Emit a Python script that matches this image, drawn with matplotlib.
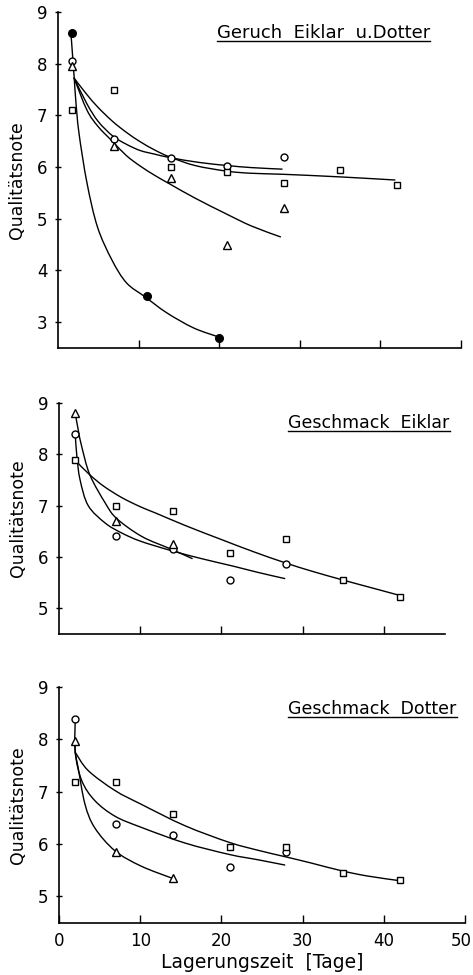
import matplotlib.pyplot as plt
from matplotlib.path import Path
from matplotlib.patches import PathPatch
from matplotlib.transforms import ScaledTranslation

# ---------------- data ----------------
# Panel 1: Geruch Eiklar u. Dotter
p1_filled_x = [1.7, 11, 20]
p1_filled_y = [8.6, 3.5, 2.7]
p1_circle_x = [1.7, 7, 14, 21, 28]
p1_circle_y = [8.05, 6.55, 6.17, 6.03, 6.2]
p1_square_x = [1.7, 7, 14, 21, 28, 35, 42]
p1_square_y = [7.1, 7.5, 6.0, 5.9, 5.7, 5.95, 5.65]
p1_triangle_x = [1.7, 7, 14, 21, 28]
p1_triangle_y = [7.95, 6.4, 5.79, 4.5, 5.2]

# fitted curves of panel 1 (points taken along the drawn lines)
p1_filled_curve_x = [1.6, 2.0, 2.2, 2.6, 3.6, 4.9, 6.7, 8.5, 10.8, 13.5, 16.8, 19.8]
p1_filled_curve_y = [8.6, 7.75, 7.3, 6.66, 5.69, 4.84, 4.2, 3.76, 3.49, 3.18, 2.89, 2.72]
p1_circle_curve_x = [2.0, 3.6, 5.0, 6.8, 8.5, 10.2, 12.0, 14.0, 17.5, 21.0, 24.0, 27.8]
p1_circle_curve_y = [7.72, 7.22, 6.88, 6.6, 6.44, 6.32, 6.25, 6.18, 6.09, 6.03, 5.99, 5.96]
p1_square_curve_x = [2.0, 3.6, 5.0, 6.8, 8.5, 10.2, 12.0, 13.8, 17.0, 21.0, 24.0, 28.0, 35.0, 41.8]
p1_square_curve_y = [7.72, 7.4, 7.15, 6.88, 6.67, 6.49, 6.33, 6.2, 6.03, 5.92, 5.88, 5.86, 5.81, 5.75]
p1_triangle_curve_x = [2.0, 3.6, 5.0, 6.8, 8.5, 10.2, 12.0, 13.9, 17.0, 20.8, 24.0, 27.6]
p1_triangle_curve_y = [7.72, 7.1, 6.78, 6.49, 6.22, 6.02, 5.84, 5.67, 5.4, 5.1, 4.86, 4.65]

# Panel 2: Geschmack Eiklar
p2_circle_x = [2, 7, 14, 21, 28]
p2_circle_y = [8.4, 6.4, 6.15, 5.55, 5.87]
p2_square_x = [2, 7, 14, 21, 28, 35, 42]
p2_square_y = [7.88, 7.0, 6.9, 6.08, 6.35, 5.55, 5.23]
p2_triangle_x = [2, 7, 14]
p2_triangle_y = [8.8, 6.7, 6.25]

p2_circle_curve_x = [2.0, 2.2, 2.6, 3.6, 5.7, 7.7, 10.0, 13.7, 17.5, 21.5, 24.5, 27.8]
p2_circle_curve_y = [8.4, 7.96, 7.5, 7.0, 6.66, 6.47, 6.31, 6.13, 5.97, 5.82, 5.7, 5.58]
p2_square_curve_x = [2.2, 3.8, 5.5, 7.7, 10.0, 12.0, 15.6, 20.0, 24.0, 27.8, 31.0, 35.0, 38.5, 42.0]
p2_square_curve_y = [7.85, 7.6, 7.38, 7.16, 6.98, 6.85, 6.61, 6.34, 6.1, 5.89, 5.73, 5.55, 5.4, 5.25]
p2_triangle_curve_x = [2.0, 2.4, 2.8, 3.8, 5.7, 7.1, 10.2, 13.7, 16.4]
p2_triangle_curve_y = [8.8, 8.45, 8.15, 7.6, 7.05, 6.75, 6.4, 6.16, 5.97]

# Panel 3: Geschmack Dotter
p3_circle_x = [2, 7, 14, 21, 28]
p3_circle_y = [8.38, 6.38, 6.17, 5.56, 5.85]
p3_square_x = [2, 7, 14, 21, 28, 35, 42]
p3_square_y = [7.18, 7.18, 6.57, 5.94, 5.95, 5.44, 5.31]
p3_triangle_x = [2, 7, 14]
p3_triangle_y = [7.96, 5.85, 5.35]

p3_circle_curve_x = [2.0, 2.0, 2.8, 4.4, 6.9, 10.1, 15.5, 21.0, 24.5, 27.8]
p3_circle_curve_y = [8.38, 7.75, 7.21, 6.83, 6.53, 6.32, 6.02, 5.8, 5.7, 5.6]
p3_square_curve_x = [2.0, 3.6, 6.9, 10.1, 15.5, 21.0, 24.8, 27.8, 31.0, 34.8, 38.0, 42.0]
p3_square_curve_y = [7.75, 7.4, 7.02, 6.76, 6.35, 6.03, 5.87, 5.76, 5.64, 5.49, 5.39, 5.3]
p3_triangle_curve_x = [2.0, 2.0, 2.35, 3.2, 4.4, 6.9, 10.1, 13.9]
p3_triangle_curve_y = [7.96, 7.75, 7.46, 6.76, 6.31, 5.87, 5.58, 5.35]

titles = ['Geruch  Eiklar  u.Dotter', 'Geschmack  Eiklar', 'Geschmack  Dotter']

# ---------------- figure ----------------
plt.rcParams['font.family'] = 'DejaVu Sans'
fig = plt.figure(figsize=(4.73, 9.75), dpi=100)

W, H = 473.0, 975.0
# axes boxes in pixels: left, right, top, bottom
boxes = [(58, 461, 12, 348), (59, 465, 403, 634), (59, 465, 686.7, 922.7)]
axes = []
for (l, r, t, b) in boxes:
    axes.append(fig.add_axes([l / W, 1 - b / H, (r - l) / W, (b - t) / H]))

open_style = dict(linestyle='none', markerfacecolor='white', markeredgecolor='black',
                  markeredgewidth=1.0, clip_on=False, zorder=3)


def draw_curve(ax, xs, ys):
    # smooth curve through the read points (Catmull-Rom as cubic Bezier path)
    pts = list(zip(xs, ys))
    n = len(pts)
    verts = [pts[0]]
    codes = [Path.MOVETO]
    for i in range(n - 1):
        p0 = pts[i - 1] if i > 0 else pts[i]
        p1 = pts[i]
        p2 = pts[i + 1]
        p3 = pts[i + 2] if i + 2 < n else pts[i + 1]
        c1 = (p1[0] + (p2[0] - p0[0]) / 6, p1[1] + (p2[1] - p0[1]) / 6)
        c2 = (p2[0] - (p3[0] - p1[0]) / 6, p2[1] - (p3[1] - p1[1]) / 6)
        verts += [c1, c2, p2]
        codes += [Path.CURVE4] * 3
    ax.add_patch(PathPatch(Path(verts, codes), fill=False, edgecolor='black',
                           lw=1.0, zorder=2, capstyle='round', joinstyle='round'))


def draw_series(ax, xs, ys, marker, size):
    ax.plot(xs, ys, marker=marker, markersize=size, **open_style)


# panel 1
ax = axes[0]
draw_curve(ax, p1_filled_curve_x, p1_filled_curve_y)
draw_curve(ax, p1_circle_curve_x, p1_circle_curve_y)
draw_curve(ax, p1_square_curve_x, p1_square_curve_y)
draw_curve(ax, p1_triangle_curve_x, p1_triangle_curve_y)
ax.plot(p1_filled_x, p1_filled_y, 'o', color='black', markersize=5.5, clip_on=False, zorder=3)
draw_series(ax, p1_circle_x, p1_circle_y, 'o', 5)
draw_series(ax, p1_square_x, p1_square_y, 's', 4.8)
draw_series(ax, p1_triangle_x, p1_triangle_y, '^', 5.5)

# panel 2
ax = axes[1]
draw_curve(ax, p2_circle_curve_x, p2_circle_curve_y)
draw_curve(ax, p2_square_curve_x, p2_square_curve_y)
draw_curve(ax, p2_triangle_curve_x, p2_triangle_curve_y)
draw_series(ax, p2_circle_x, p2_circle_y, 'o', 5)
draw_series(ax, p2_square_x, p2_square_y, 's', 4.8)
draw_series(ax, p2_triangle_x, p2_triangle_y, '^', 5.5)

# panel 3
ax = axes[2]
draw_curve(ax, p3_circle_curve_x, p3_circle_curve_y)
draw_curve(ax, p3_square_curve_x, p3_square_curve_y)
draw_curve(ax, p3_triangle_curve_x, p3_triangle_curve_y)
draw_series(ax, p3_circle_x, p3_circle_y, 'o', 5)
draw_series(ax, p3_square_x, p3_square_y, 's', 4.8)
draw_series(ax, p3_triangle_x, p3_triangle_y, '^', 5.5)

# axes styling
ylims = [(2.5, 9), (4.5, 9), (4.5, 9)]
yticks = [range(3, 10), range(5, 10), range(5, 10)]
title_pos = [(0.395, 0.937), (0.565, 0.913), (0.565, 0.905)]
title_size = [13, 12.5, 12.5]
title_artists = []
for i, ax in enumerate(axes):
    ax.set_xlim(0, 50)
    ax.set_ylim(*ylims[i])
    ax.spines['top'].set_visible(False)
    ax.spines['right'].set_visible(False)
    ax.spines['left'].set_linewidth(1.2)
    ax.spines['bottom'].set_linewidth(1.2)
    ax.set_yticks(list(yticks[i]))
    ax.tick_params(axis='y', direction='inout', length=5, width=1.0, pad=5, labelsize=12)
    ax.tick_params(axis='x', direction='in', length=6, width=1.0, pad=7, labelsize=12)
    if i == 2:
        ax.set_xticks([0, 10, 20, 30, 40, 50])
        ax.set_xlabel('Lagerungszeit  [Tage]', fontsize=13.5, labelpad=2)
    elif i == 1:
        ax.set_xticks([10, 20, 30, 40])
        ax.set_xticklabels([])
        ax.spines['bottom'].set_bounds(0, 47.5)
    else:
        ax.set_xticks([10, 20, 30, 40, 50])
        ax.set_xticklabels([])
    ax.set_ylabel('Qualitätsnote', fontsize=12.5)
    ax.yaxis.set_label_coords(-0.08, 0.5)
    tx, ty = title_pos[i]
    title_artists.append(ax.text(tx, ty, titles[i], transform=ax.transAxes,
                                 ha='left', va='center', fontsize=title_size[i]))

# underline the panel titles
fig.canvas.draw()
renderer = fig.canvas.get_renderer()
for ax, t in zip(axes, title_artists):
    bb = t.get_window_extent(renderer)
    inv = ax.transAxes.inverted()
    (x0, y0) = inv.transform((bb.x0, bb.y0 + 1))
    (x1, _) = inv.transform((bb.x1, bb.y0 + 1))
    ax.plot([x0, x1], [y0, y0], transform=ax.transAxes, color='black', lw=1.0, clip_on=False)

# keep the "50" label inside the picture
last = axes[2].get_xticklabels()[-1]
last.set_transform(last.get_transform() + ScaledTranslation(-3 / 72, 0, fig.dpi_scale_trans))

fig.savefig('out.png', dpi=100)
